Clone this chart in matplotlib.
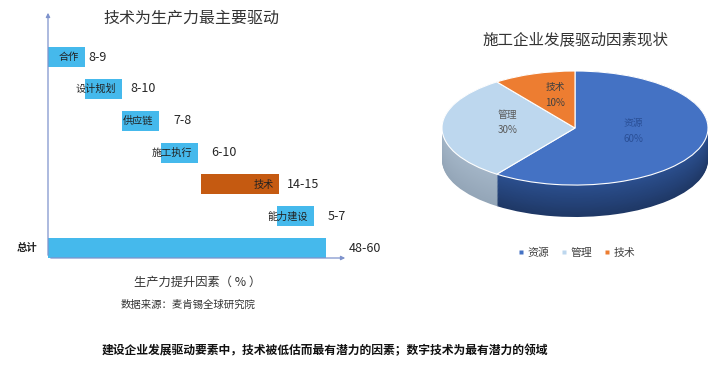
import numpy as np
import matplotlib
matplotlib.use('Agg')
import matplotlib.pyplot as plt
from matplotlib.lines import Line2D

plt.rcParams['font.family'] = ['Noto Sans CJK SC', 'DejaVu Sans']

# 瀑布图数据（条形为示意长度）
steps = ['合作', '设计规划', '供应链', '施工执行', '技术', '能力建设', '总计']
ranges = ['8-9', '8-10', '7-8', '6-10', '14-15', '5-7', '48-60']
bar_len = [8, 8, 8, 8, 17, 8, 60]
bar_start = [0, 8, 16, 24.5, 33, 49.5, 0]

# 饼图数据
pie_labels = ['资源', '管理', '技术']
pie_values = [60, 30, 10]

W, H = 713, 378
fig = plt.figure(figsize=(W / 100, H / 100), dpi=100)


def px_axes(x0, y0, x1, y1):
    # 以像素（左上角为原点）给出区域
    return fig.add_axes([x0 / W, 1 - y1 / H, (x1 - x0) / W, (y1 - y0) / H])


# ---------------- 左图：瀑布 ----------------
ax = px_axes(48, 10, 348, 258)
ax.set_xlim(0, 64.8)
ax.set_ylim(6.31, -1.48)
ax.axis('off')

cyan = '#45b9ec'
orange = '#c55a11'
pads = [0.7, 1.7, 3.2, 2.8, 1.5, 3.0, 5.0]
for i, (name, rng, s, w) in enumerate(zip(steps, ranges, bar_start, bar_len)):
    col = orange if name == '技术' else cyan
    ax.barh(i, w, left=s, height=0.63, color=col, edgecolor='none')
    if name == '总计':
        ax.text(-2.2, i, name, ha='right', va='center', fontsize=7.5,
                fontweight='bold', color='#222222')
    else:
        ax.text(s + w - 1.3, i, name, ha='right', va='center', fontsize=7.3,
                fontweight='medium', color='#222222')
    ax.text(s + w + pads[i], i, rng, ha='left', va='center', fontsize=9,
            color='#262626')

arrow = dict(arrowstyle='-|>', color='#7f93cc', lw=0.9, mutation_scale=6)
ax.annotate('', xy=(0, 1), xytext=(0, 0), xycoords='axes fraction',
            arrowprops=arrow)
ax.annotate('', xy=(1, 0), xytext=(0, 0), xycoords='axes fraction',
            arrowprops=arrow)

fig.text(191 / W, 1 - 18 / H, '技术为生产力最主要驱动', ha='center', va='center',
         fontsize=11.5, color='#333333')
fig.text(198 / W, 1 - 282 / H, '生产力提升因素（ % ）', ha='center', va='center',
         fontsize=8.8, color='#333333')
fig.text(188 / W, 1 - 305 / H, '数据来源：麦肯锡全球研究院', ha='center',
         va='center', fontsize=7.5, color='#333333')

# ---------------- 右图：3D 饼 ----------------
pax = px_axes(442, 71, 708, 217)
top_cols = ['#4472c4', '#bdd7ee', '#ed7d31']
side_dark = np.array([[0.12, 0.22, 0.40], [0.58, 0.65, 0.72], [0.70, 0.35, 0.10]])
side_light = np.array([[0.17, 0.31, 0.56], [0.64, 0.71, 0.78], [0.80, 0.42, 0.14]])
depth = 0.56
n = 40
for k in range(n):
    t = k / (n - 1)
    cols = [tuple(side_dark[j] * (1 - t) + side_light[j] * t) for j in range(3)]
    pax.pie(pie_values, colors=cols, startangle=90, counterclock=False,
            center=(0, -depth * (1 - t)), radius=1,
            wedgeprops=dict(linewidth=0))
pax.pie(pie_values, colors=top_cols, startangle=90, counterclock=False,
        center=(0, 0), radius=1,
        wedgeprops=dict(linewidth=0.8, edgecolor='white'))
pax.set_aspect('auto')
pax.set_xlim(-1, 1)
pax.set_ylim(-1 - depth, 1)
pax.axis('off')

lab_pos = [(0.44, -0.05), (-0.51, 0.10), (-0.15, 0.58)]
lab_cols = ['#2a4f96', '#595959', '#404040']
for (x, y), lab, v, c in zip(lab_pos, pie_labels, pie_values, lab_cols):
    pax.text(x, y, f'{lab}\n{v}%', ha='center', va='center', fontsize=7,
             color=c, linespacing=1.7)

fig.text(575 / W, 1 - 40 / H, '施工企业发展驱动因素现状', ha='center',
         va='center', fontsize=11.2, color='#333333')

handles = [Line2D([], [], marker='s', linestyle='none', markersize=3.5,
                  markerfacecolor=c, markeredgecolor='none') for c in top_cols]
fig.legend(handles, pie_labels, loc='center', bbox_to_anchor=(576 / W, 1 - 253 / H),
           ncol=3, frameon=False, fontsize=7.8, handletextpad=0.2,
           columnspacing=1.0, handlelength=0.8, labelcolor='#404040')

# 底部结论
fig.text(325 / W, 1 - 351 / H,
         '建设企业发展驱动要素中，技术被低估而最有潜力的因素；数字技术为最有潜力的领域',
         ha='center', va='center', fontsize=8.5, fontweight='bold', color='#111111')

fig.savefig('out.png', dpi=100)
